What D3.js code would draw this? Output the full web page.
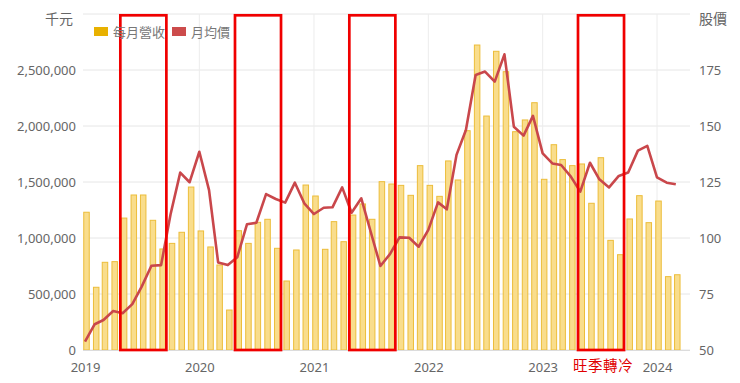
<!DOCTYPE html>
<html><head><meta charset="utf-8">
<script src="https://cdn.jsdelivr.net/npm/d3@7"></script>
<style>
html,body{margin:0;padding:0;background:#fff;}
svg text{font-family:"Noto Sans","Noto Sans CJK TC",sans-serif;}
</style></head>
<body><svg id="c" width="740" height="383"></svg>
<script>
const months = d3.range(63).map(i => new Date(2019, i, 1));
const revenue = [
 1230000, 560000, 783000, 789000, 1178000, 1384000, 1384000, 1158000, 902000, 952000, 1051000, 1455000,
 1063000, 920000, 759000, 357000, 1065000, 952000, 1140000, 1167000, 908000, 616000, 893000, 1473000,
 1375000, 899000, 1146000, 967000, 1205000, 1304000, 1167000, 1503000, 1482000, 1470000, 1381000, 1646000,
 1470000, 1372000, 1688000, 1518000, 1958000, 2723000, 2089000, 2667000, 2485000, 1949000, 2054000, 2208000,
 1524000, 1833000, 1700000, 1646000, 1661000, 1310000, 1717000, 979000, 851000, 1170000, 1378000, 1137000,
 1330000, 655000, 672000
];
const price = [
 53.7, 61.5, 63.4, 67.4, 66.4, 70.5, 78.3, 87.6, 87.9, 110.5, 129.2, 124.9,
 138.5, 121.4, 89.1, 87.9, 91.4, 106.1, 106.8, 119.6, 117.4, 115.8, 124.7, 115.5,
 110.7, 113.5, 113.7, 122.6, 111.3, 117.7, 102.8, 87.5, 92.9, 100.3, 100.1, 96.1,
 103.6, 115.9, 112.8, 137.1, 148.2, 172.8, 174.3, 169.8, 182.0, 149.7, 145.7, 154.5,
 137.8, 133.3, 132.6, 127.4, 120.7, 133.6, 126.2, 122.6, 127.7, 129.2, 139.0, 141.1,
 127.1, 124.7, 124.0
];
const leftTicks = [0, 500000, 1000000, 1500000, 2000000, 2500000];
const leftGrid = [0, 500000, 1000000, 1500000, 2000000, 2500000, 3000000];
const rightTicks = [50, 75, 100, 125, 150, 175];
const yearTicks = [2019, 2020, 2021, 2022, 2023, 2024].map(y => new Date(y, 0, 1));
const highlights = [[new Date(2019,4,1), new Date(2019,8,1)], [new Date(2020,4,1), new Date(2020,8,1)],
                    [new Date(2021,4,1), new Date(2021,8,1)], [new Date(2023,4,1), new Date(2023,8,1)]];
const seriesNames = ["每月營收", "月均價"];
const noteText = "旺季轉冷";

const svg = d3.select("#c");
const x = d3.scaleTime().domain([new Date(2019,0,1), new Date(2024,0,1)]).range([85, 657]);
const yL = d3.scaleLinear().domain([0, 3000000]).range([350, 14]);
const yR = d3.scaleLinear().domain([50, 200]).range([350, 14]);
const plotL = 83, plotR = 690;
const bw = 5.5, boff = 1.5;
const grey = "#666";

// horizontal grid
svg.append("g").selectAll("line").data(leftGrid).join("line")
  .attr("x1", plotL).attr("x2", plotR).attr("y1", d => yL(d)).attr("y2", d => yL(d))
  .attr("stroke", "#e6e6e6").attr("stroke-width", 1);
// vertical grid
svg.append("g").selectAll("line").data(yearTicks.slice(1)).join("line")
  .attr("x1", d => x(d)).attr("x2", d => x(d)).attr("y1", yL(3000000)).attr("y2", yL(0))
  .attr("stroke", "#ececec").attr("stroke-width", 1);

// left axis
const gl = svg.append("g").attr("transform", "translate(76,0)")
  .call(d3.axisLeft(yL).tickValues(leftTicks).tickFormat(d3.format(",")).tickSize(0).tickPadding(0));
gl.select(".domain").remove();
gl.selectAll("text").attr("fill", grey).attr("font-size", 13).attr("font-family", "'Noto Sans',sans-serif");
// right axis
const gr = svg.append("g").attr("transform", "translate(699,0)")
  .call(d3.axisRight(yR).tickValues(rightTicks).tickSize(0).tickPadding(0));
gr.select(".domain").remove();
gr.selectAll("text").attr("fill", grey).attr("font-size", 13).attr("font-family", "'Noto Sans',sans-serif");
// bottom axis
const gb = svg.append("g").attr("transform", "translate(0,361)")
  .call(d3.axisBottom(x).tickValues(yearTicks).tickFormat(d3.timeFormat("%Y")).tickSize(0).tickPadding(2));
gb.select(".domain").remove();
gb.selectAll("text").attr("fill", grey).attr("font-size", 13).attr("font-family", "'Noto Sans',sans-serif");

// axis titles
svg.append("text").attr("x", 73).attr("y", 24).attr("text-anchor", "end")
  .attr("fill", grey).attr("font-size", 14).attr("font-family", "'Noto Sans CJK TC'").text("千元");
svg.append("text").attr("x", 699).attr("y", 24)
  .attr("fill", grey).attr("font-size", 14).attr("font-family", "'Noto Sans CJK TC'").text("股價");

// bars
svg.append("g").selectAll("rect").data(months).join("rect")
  .attr("x", (d) => x(d) + boff - bw/2)
  .attr("width", bw)
  .attr("y", (d, i) => yL(revenue[i]))
  .attr("height", (d, i) => yL(0) - yL(revenue[i]))
  .attr("fill", "#f9dd8c").attr("stroke", "#ecbd3a").attr("stroke-width", 1);

// baseline
svg.append("line").attr("x1", plotL).attr("x2", plotR).attr("y1", yL(0)+0.5).attr("y2", yL(0)+0.5)
  .attr("stroke", "#dcdcdc");

// line
const line = d3.line().x(d => x(d.date)).y(d => yR(d.v));
svg.append("path").datum(months.map((d, i) => ({date: d, v: price[i]})))
  .attr("d", line).attr("fill", "none").attr("stroke", "#c9474b").attr("stroke-width", 2.6)
  .attr("stroke-linejoin", "round");

// highlight rects
svg.append("g").selectAll("rect").data(highlights).join("rect")
  .attr("x", d => x(d[0]) + boff - bw/2 - 1)
  .attr("width", d => (x(d[1]) + boff + bw/2 + 1) - (x(d[0]) + boff - bw/2 - 1))
  .attr("y", yL(3000000) + 1.3)
  .attr("height", yL(0) - yL(3000000) - 1.3)
  .attr("fill", "none").attr("stroke", "#f00000").attr("stroke-width", 2.7);

// legend
const lg = svg.append("g");
const legendColors = ["#e8b100", "#cc4b4b"];
const legendX = [94, 172];
seriesNames.forEach((n, i) => {
  lg.append("rect").attr("x", legendX[i]).attr("y", 27).attr("width", 14).attr("height", 9).attr("fill", legendColors[i]);
  lg.append("text").attr("x", legendX[i] + 19).attr("y", 37).attr("fill", "#777").attr("font-size", 13)
    .attr("font-family", "'Noto Sans CJK TC'").text(n);
});

// note
svg.append("text").attr("x", 573).attr("y", 371).attr("fill", "#e00000").attr("font-size", 14.5)
  .attr("letter-spacing", 0.5).attr("font-family", "'Noto Sans CJK TC'").text(noteText);
</script></body></html>
